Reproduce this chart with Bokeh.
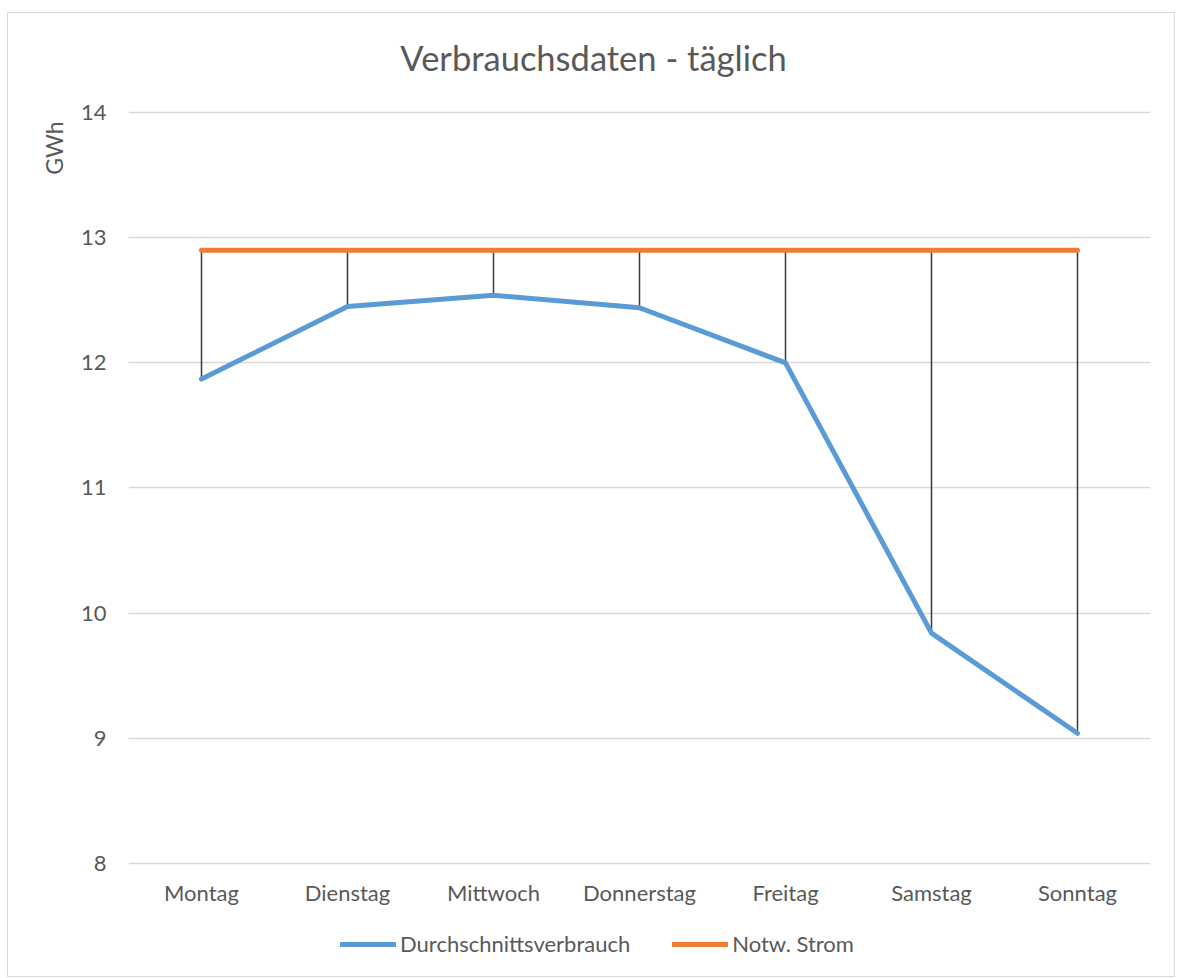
from bokeh.plotting import figure
from bokeh.models import Range1d, FactorRange, Title, Legend, LegendItem
from bokeh.core.properties import value
from bokeh.embed import file_html
from bokeh.resources import INLINE

days = ["Montag", "Dienstag", "Mittwoch", "Donnerstag", "Freitag", "Samstag", "Sonntag"]
durchschnitt = [11.87, 12.45, 12.54, 12.44, 12.0, 9.84, 9.04]
notw_strom = [12.9, 12.9, 12.9, 12.9, 12.9, 12.9, 12.9]
y_ticks = [8, 9, 10, 11, 12, 13, 14]
chart_title = "Verbrauchsdaten - täglich"

FONT = "Lato"
TXT = "#595959"
# the frame spans the whole chart area so title, category labels and legend sit inside it
Y_TOP = 14.791
Y_BOTTOM = 7.081
LABEL_Y = 7.765
TITLE_Y = 14.44

p = figure(width=1168, height=965, x_range=FactorRange(*days, range_padding=0),
           y_range=Range1d(Y_BOTTOM, Y_TOP), output_backend="svg", toolbar_location=None,
           min_border_left=120, min_border_right=26, min_border_top=0, min_border_bottom=0)
p.styles = {"border": "1px solid #d9d9d9", "margin-left": "7px", "margin-top": "12px"}
p.outline_line_color = None
p.background_fill_color = "white"
p.border_fill_color = "white"

p.xaxis.visible = False
p.xgrid.grid_line_color = None
p.ygrid.grid_line_color = "#d9d9d9"
p.ygrid.grid_line_width = 1.3
p.yaxis.ticker = y_ticks
p.yaxis.axis_line_color = None
p.yaxis.major_tick_line_color = None
p.yaxis.minor_tick_line_color = None
p.yaxis.major_label_text_font = FONT
p.yaxis.major_label_text_font_size = "22px"
p.yaxis.major_label_text_color = TXT
p.yaxis.major_label_standoff = 16

# category labels
p.text(x=days, y=[LABEL_Y] * len(days), text=days, text_align="center", text_baseline="middle",
       text_font=value(FONT), text_font_size="22px", text_color=TXT)

# chart title (centred over the whole chart, i.e. 46px left of the frame centre)
p.text(x=[days[3]], y=[TITLE_Y], text=[chart_title], x_offset=-46, text_align="center",
       text_baseline="middle", text_font=value(FONT), text_font_size="34.5px", text_color=TXT)

seg = p.segment(x0=days, y0=durchschnitt, x1=days, y1=notw_strom, line_color="#3a3a3a", line_width=1.5)
r_blue = p.line(days, durchschnitt, line_color="#5b9bd5", line_width=5, line_join="round", line_cap="round")
r_orange = p.line(days, notw_strom, line_color="#ed7d31", line_width=5, line_cap="round")

legend = Legend(items=[LegendItem(label="Durchschnittsverbrauch", renderers=[r_blue]),
                       LegendItem(label="Notw. Strom", renderers=[r_orange])],
                orientation="horizontal", location=(212, 21))
legend.label_text_font = FONT
legend.label_text_font_size = "22px"
legend.label_text_color = TXT
legend.glyph_width = 56
legend.glyph_height = 22
legend.label_height = 22
legend.label_width = 0
legend.label_standoff = 4
legend.spacing = 42
legend.padding = 0
legend.margin = 0
legend.border_line_color = None
legend.background_fill_alpha = 0
p.add_layout(legend, "center")

ylab = Title(text="GWh", align="right", offset=108, standoff=20,
             text_font=FONT, text_font_size="23px", text_color=TXT, text_font_style="normal")
p.add_layout(ylab, "left")

open("out.html", "w").write(file_html(p, INLINE))
